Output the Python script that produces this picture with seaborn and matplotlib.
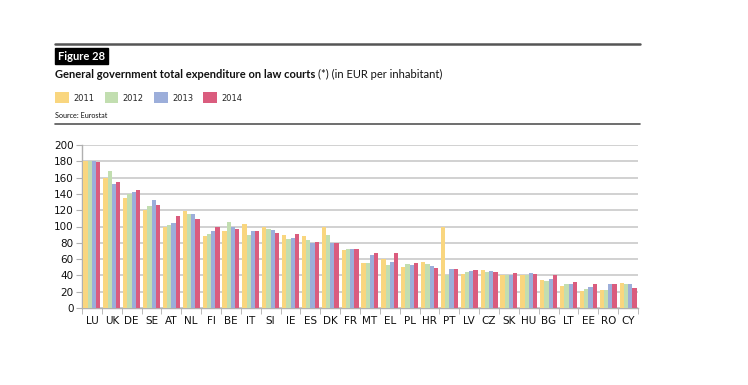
import matplotlib
matplotlib.use("Agg")
import matplotlib.pyplot as plt
import seaborn as sns
import pandas as pd
from matplotlib.lines import Line2D
from matplotlib.ticker import FixedLocator

countries = ["LU", "UK", "DE", "SE", "AT", "NL", "FI", "BE", "IT", "SI", "IE", "ES", "DK", "FR",
             "MT", "EL", "PL", "HR", "PT", "LV", "CZ", "SK", "HU", "BG", "LT", "EE", "RO", "CY"]
years = ["2011", "2012", "2013", "2014"]
v2011 = [180, 160, 135, 120, 100, 119, 88, 95, 103, 100, 89, 88, 100, 71,
         55, 60, 50, 56, 99, 42, 47, 41, 40, 34, 27, 21, 22, 31]
v2012 = [180, 168, 140, 125, 102, 115, 91, 105, 90, 97, 85, 83, 89, 73,
         55, 53, 54, 54, 40, 44, 44, 40, 40, 33, 29, 23, 22, 30]
v2013 = [180, 152, 142, 132, 104, 115, 95, 100, 95, 96, 86, 80, 80, 73,
         65, 57, 53, 51, 48, 46, 46, 41, 43, 36, 29, 26, 29, 29]
v2014 = [179, 155, 145, 126, 113, 109, 99, 97, 94, 92, 91, 81, 80, 72,
         68, 67, 55, 49, 48, 47, 44, 43, 42, 40, 32, 29, 29, 25]
colors = ["#F9D67F", "#C2DEB0", "#9CAEDA", "#DA5C7E"]
yticks = [0, 20, 40, 60, 80, 100, 120, 140, 160, 180, 200]

rows = []
for yr, vals in zip(years, [v2011, v2012, v2013, v2014]):
    for c, v in zip(countries, vals):
        rows.append({"country": c, "year": yr, "value": v})
df = pd.DataFrame(rows)

sns.set_style("white")
plt.rcParams["font.family"] = ["DejaVu Sans"]

W, H = 748, 385
fig = plt.figure(figsize=(W / 100, H / 100), dpi=100)
ax = fig.add_axes([82 / W, 1 - 308 / H, (638 - 82) / W, (308 - 145) / H])

sns.barplot(data=df, x="country", y="value", hue="year", order=countries, hue_order=years,
            palette=colors, saturation=1, width=0.86, gap=0, errorbar=None, linewidth=0,
            ax=ax, zorder=3)

ax.set_ylim(0, 200)
ax.set_xlim(-0.5, len(countries) - 0.5)
ax.set_yticks(yticks)
ax.yaxis.grid(True, color="#c9c9c9", linewidth=1.2, zorder=0)
ax.set_axisbelow(True)
ax.set_xlabel("")
ax.set_ylabel("")
for s in ["top", "right"]:
    ax.spines[s].set_visible(False)
for s in ["left", "bottom"]:
    ax.spines[s].set_color("#b0b0b0")
    ax.spines[s].set_linewidth(1.0)
ax.tick_params(axis="y", which="major", length=4, color="#b0b0b0", labelsize=7.5,
               labelcolor="#111111", pad=2, left=True)
ax.tick_params(axis="x", which="major", length=0, labelsize=7.5, labelcolor="#111111", pad=6)
ax.xaxis.set_minor_locator(FixedLocator([i + 0.5 for i in range(-1, len(countries))]))
ax.tick_params(axis="x", which="minor", length=4, color="#b0b0b0", bottom=True)

handles, labels = ax.get_legend_handles_labels()
ax.get_legend().remove()
fig.legend(handles, labels, loc="upper left", bbox_to_anchor=(52 / W, 1 - 89 / H),
           ncol=4, frameon=False, fontsize=6, handlelength=1.65, handleheight=1.65,
           handletextpad=0.5, columnspacing=1.25, borderaxespad=0)

# rules
fig.add_artist(Line2D([55 / W, 640 / W], [1 - 43.5 / H, 1 - 43.5 / H], color="#555555", lw=1.8))
fig.add_artist(Line2D([55 / W, 640 / W], [1 - 124 / H, 1 - 124 / H], color="#555555", lw=1.2))

fig.text(58 / W, 1 - 56 / H, "Figure 28", color="white", fontsize=8, fontweight="bold",
         va="center", ha="left", family="Lato",
         bbox=dict(boxstyle="square,pad=0.25", facecolor="black", edgecolor="black"))

t1 = fig.text(55 / W, 1 - 74 / H, "General government total expenditure on law courts",
              fontsize=8, fontweight="bold", va="center", ha="left", family="Lato", color="#111111")
fig.canvas.draw()
bb = t1.get_window_extent(renderer=fig.canvas.get_renderer())
fig.text((bb.x1 + 3) / W, 1 - 74 / H, "(*) (in EUR per inhabitant)", fontsize=8,
         va="center", ha="left", family="Lato", color="#111111")

fig.text(55 / W, 1 - 116 / H, "Source: Eurostat", fontsize=5.2, va="center", ha="left",
         family="Lato", color="#111111")

fig.savefig("out.png", dpi=100, facecolor="white")
